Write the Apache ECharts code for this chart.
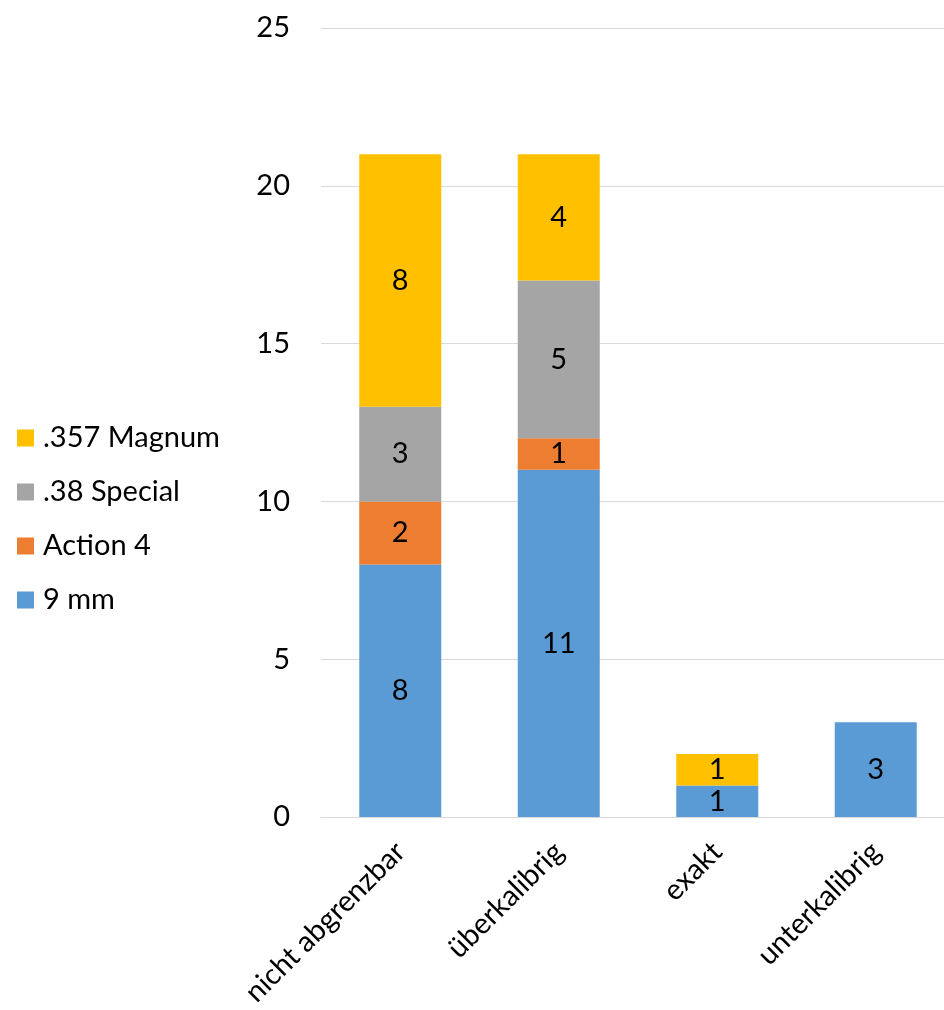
<!DOCTYPE html>
<html>
<head>
<meta charset="utf-8">
<script src="https://cdn.jsdelivr.net/npm/echarts@6/dist/echarts.min.js"></script>
<style>
  html, body { margin: 0; padding: 0; background: #fff; overflow: hidden; }
  #chart { width: 955px; height: 1010px; }
</style>
</head>
<body>
<div id="chart"></div>
<script>
// Categories along the x axis
const categories = ['nicht abgrenzbar', 'überkalibrig', 'exakt', 'unterkalibrig'];

// Stacked series values, bottom to top
const mm9       = [8, 11, 1, 3];
const action4   = [2, 1, 0, 0];
const special38 = [3, 5, 0, 0];
const magnum357 = [8, 4, 1, 0];

// Y axis scale
const yMin = 0, yMax = 25, yStep = 5;

const FONT = 'Lato, "Open Sans", sans-serif';

const seriesDefs = [
  { name: '9 mm', data: mm9, color: '#5B9BD5' },
  { name: 'Action 4', data: action4, color: '#ED7D31' },
  { name: '.38 Special', data: special38, color: '#A5A5A5' },
  { name: '.357 Magnum', data: magnum357, color: '#FFC000' }
];

const chart = echarts.init(document.getElementById('chart'), null, { renderer: 'canvas' });

chart.setOption({
  animation: false,
  textStyle: { fontFamily: FONT },
  grid: { left: 321, top: 28, bottom: 193, right: 0, containLabel: false },
  legend: {
    orient: 'vertical',
    left: 12,
    top: 418,
    icon: 'rect',
    itemWidth: 17,
    itemHeight: 17,
    itemGap: 24,
    data: ['.357 Magnum', '.38 Special', 'Action 4', '9 mm'],
    textStyle: { fontSize: 29, color: '#000', fontFamily: FONT, lineHeight: 30, padding: [0, 0, 0, 4] }
  },
  xAxis: {
    type: 'category',
    data: categories,
    axisLine: { show: true, lineStyle: { color: '#d9d9d9', width: 1 } },
    axisTick: { show: false },
    axisLabel: { rotate: 45, fontSize: 29, color: '#000', margin: 30, fontFamily: FONT, interval: 0 }
  },
  yAxis: {
    type: 'value',
    min: yMin,
    max: yMax,
    interval: yStep,
    axisLine: { show: false },
    axisTick: { show: false },
    splitLine: { lineStyle: { color: '#d9d9d9', width: 1 } },
    axisLabel: { fontSize: 29, color: '#000', margin: 31, fontFamily: FONT }
  },
  series: seriesDefs.map(s => ({
    name: s.name,
    type: 'bar',
    stack: 'total',
    barWidth: 82,
    data: s.data,
    itemStyle: { color: s.color },
    label: {
      show: true,
      position: 'inside',
      color: '#000',
      fontSize: 29,
      fontFamily: FONT,
      formatter: p => (p.value ? String(p.value) : '')
    }
  }))
});
</script>
</body>
</html>
